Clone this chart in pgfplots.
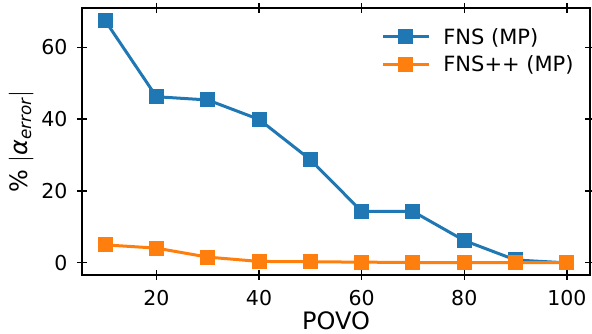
\documentclass[border=0pt]{standalone}
\usepackage{fontspec}
\setmainfont{DejaVu Sans}
\usepackage{pgfplots}
\pgfplotsset{compat=1.18}
\definecolor{tabblue}{HTML}{1F77B4}
\definecolor{taborange}{HTML}{FF7F0E}
\begin{document}
\begin{tikzpicture}[x=1pt,y=1pt]
\useasboundingbox (0,0) rectangle (592,334);
\begin{axis}[
  at={(82pt,59pt)}, anchor=south west,
  scale only axis, width=508pt, height=267pt,
  xmin=5.5, xmax=104.5, ymin=-3.375, ymax=70.875,
  xtick={20,40,60,80,100}, ytick={0,20,40,60},
  tick align=center, major tick length=10pt,
  tick style={line width=1.2pt, black},
  axis line style={line width=1.2pt},
  /pgf/number format/assume math mode=true,
  tick label style={font=\fontsize{20.5}{24}\selectfont},
  xticklabel style={yshift=-7pt},
  yticklabel style={xshift=-6pt},
  xlabel={POVO}, ylabel={\% $|$\textit{α}\textsubscript{\textit{error}}$|$},
  label style={font=\fontsize{24}{28}\selectfont},
  xlabel style={yshift=1pt},
  ylabel style={yshift=1pt},
  legend style={draw=none, fill=none, inner sep=0pt, at={(0.589,0.925)}, anchor=north west,
    font=\fontsize{21}{25}\selectfont, row sep=10pt,
    nodes={inner sep=0pt},
    /tikz/every odd column/.append style={column sep=13pt},
    legend cell align=left},
  legend image code/.code={\draw[mark repeat=2,mark phase=2] plot coordinates {(0pt,0pt)(23pt,0pt)(46pt,0pt)};},
  every axis plot/.append style={line width=3pt, mark=square*, mark size=6pt, mark options={solid}},
]
\addplot[color=tabblue] coordinates {
(10,67.4)(20,46.2)(30,45.3)(40,39.9)(50,28.7)(60,14.3)(70,14.3)(80,6.2)(90,0.8)(100,0)};
\addlegendentry{FNS (MP)}
\addplot[color=taborange] coordinates {
(10,5.0)(20,4.1)(30,1.6)(40,0.4)(50,0.3)(60,0.2)(70,0.1)(80,0.05)(90,0.05)(100,0.05)};
\addlegendentry{FNS++ (MP)}
\end{axis}
\end{tikzpicture}
\end{document}
